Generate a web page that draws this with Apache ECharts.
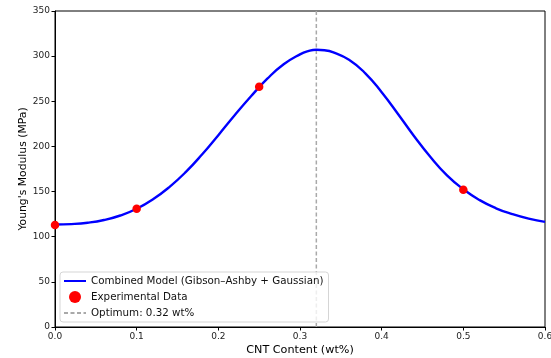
<!DOCTYPE html>
<html>
<head>
<meta charset="utf-8">
<script src="https://cdn.jsdelivr.net/npm/echarts@6/dist/echarts.min.js"></script>
<style>
  html, body {margin: 0; padding: 0; background: #fff;}
  #chart {width: 551px; height: 358px;}
</style>
</head>
<body>
<div id="chart"></div>
<script>
// curve
const modelX = [0, 0.02, 0.04, 0.06, 0.08, 0.10, 0.12, 0.14, 0.16, 0.18, 0.20, 0.22, 0.24, 0.26, 0.28, 0.30, 0.31, 0.32,
  0.33, 0.34, 0.36, 0.38, 0.40, 0.42, 0.44, 0.46, 0.48, 0.50, 0.52, 0.54, 0.56, 0.58, 0.60];
const modelY = [113.5, 114, 115.5, 118.5, 123.5, 131, 141.5, 155, 171.5, 191, 212.5, 234.5, 255.5, 275, 291, 302, 305.5, 307,
  306.5, 304.5, 296, 281, 260, 236, 211, 188, 168, 152.5, 140.5, 131.5, 125, 120, 116.5];
const expX = [0, 0.1, 0.25, 0.5];
const expY = [113, 131, 266, 152];
const optimumX = 0.32;
const yRange = [0, 350];

const font = 'DejaVu Sans';
const chart = echarts.init(document.getElementById('chart'));
chart.setOption({
  animation: false,
  textStyle: {fontFamily: font},
  grid: {
    left: 55, right: 6, top: 11, bottom: 31, outerBoundsMode: 'none',
    show: true, borderColor: '#000', borderWidth: 1, backgroundColor: 'transparent'
  },
  legend: {
    orient: 'vertical',
    left: 60,
    bottom: 36,
    padding: [4, 5, 4, 3],
    itemGap: 5,
    itemWidth: 22,
    itemHeight: 12,
    backgroundColor: 'rgba(255,255,255,0.8)',
    borderColor: '#d5d5d5',
    borderWidth: 1,
    borderRadius: 3,
    textStyle: {fontFamily: font, fontSize: 10.3, color: '#111'},
    data: [
      {name: 'Combined Model (Gibson–Ashby + Gaussian)', itemStyle: {opacity: 0}},
      {name: 'Experimental Data', icon: 'circle'},
      {name: 'Optimum: 0.32 wt%', itemStyle: {opacity: 0}}
    ]
  },
  xAxis: {
    type: 'value', min: 0, max: 0.6, interval: 0.1,
    name: 'CNT Content (wt%)', nameLocation: 'middle', nameGap: 18, nameMoveOverlap: false,
    nameTextStyle: {fontSize: 11.2, color: '#000', fontFamily: font},
    axisLine: {show: true, onZero: false, lineStyle: {color: '#000'}},
    axisTick: {show: true, length: 3.5, lineStyle: {color: '#000'}},
    axisLabel: {fontSize: 9, color: '#222', margin: 5, formatter: v => v.toFixed(1)},
    splitLine: {show: false}
  },
  yAxis: {
    type: 'value', min: yRange[0], max: yRange[1], interval: 50,
    name: "Young's Modulus (MPa)", nameLocation: 'middle', nameGap: 26, nameMoveOverlap: false,
    nameTextStyle: {fontSize: 10.8, color: '#000', fontFamily: font},
    axisLine: {show: true, lineStyle: {color: '#000'}},
    axisTick: {show: true, length: 3.5, lineStyle: {color: '#000'}},
    axisLabel: {fontSize: 9, color: '#222', margin: 5},
    splitLine: {show: false}
  },
  series: [
    {
      name: 'Optimum: 0.32 wt%',
      type: 'line',
      symbol: 'none',
      data: yRange.map(y => [optimumX, y]),
      lineStyle: {color: '#a9a9a9', width: 1.5, type: [4, 2.5]},
      itemStyle: {color: '#a9a9a9'},
      z: 1
    },
    {
      name: 'Combined Model (Gibson–Ashby + Gaussian)',
      type: 'line',
      symbol: 'none',
      smooth: 0.5,
      data: modelX.map((x, i) => [x, modelY[i]]),
      lineStyle: {color: '#0000ff', width: 2.4},
      itemStyle: {color: '#0000ff'},
      z: 2
    },
    {
      name: 'Experimental Data',
      type: 'scatter',
      symbolSize: 8.5,
      data: expX.map((x, i) => [x, expY[i]]),
      itemStyle: {color: '#ff0000', opacity: 1},
      clip: false,
      z: 3
    }
  ]
});
</script>
</body>
</html>
